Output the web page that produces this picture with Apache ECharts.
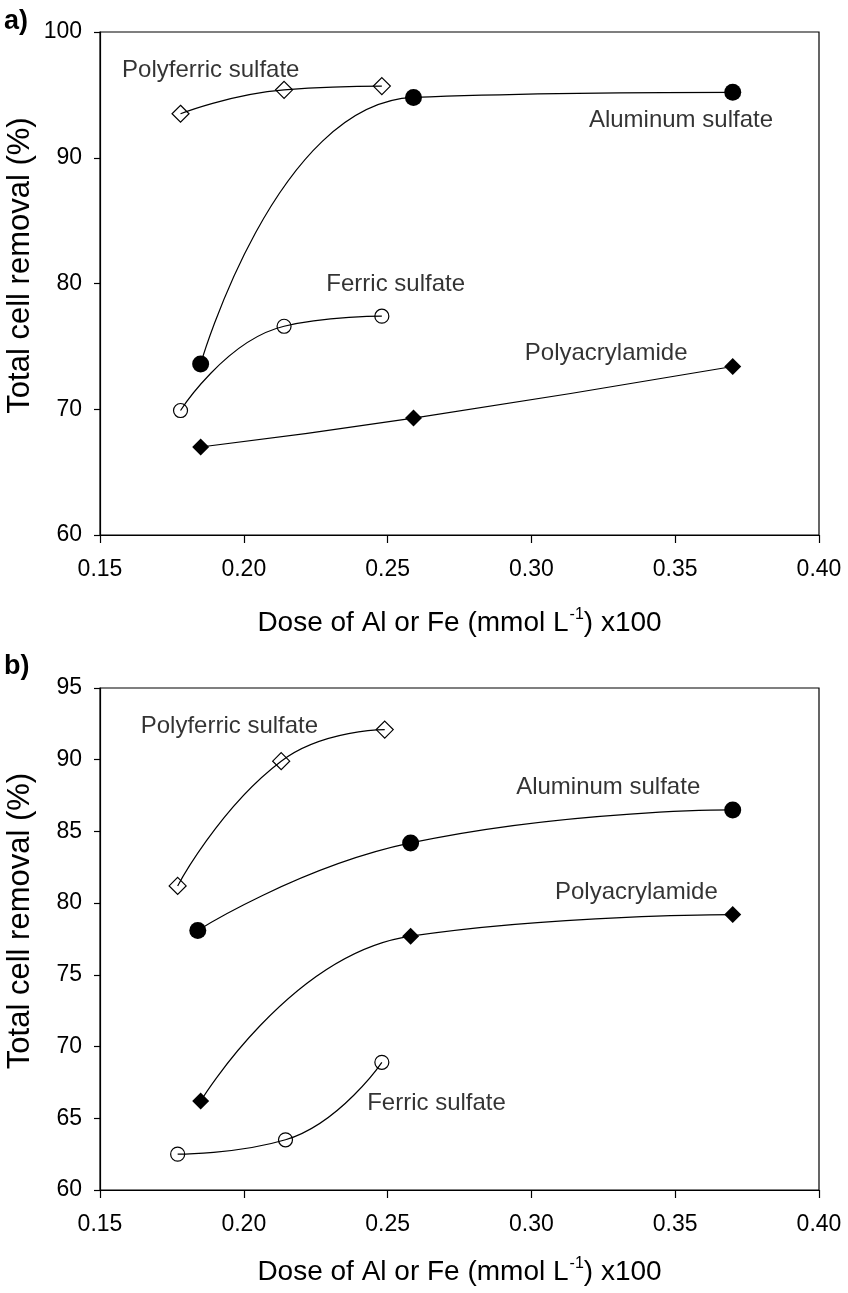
<!DOCTYPE html>
<html>
<head>
<meta charset="utf-8">
<script src="https://cdn.jsdelivr.net/npm/echarts@6/dist/echarts.min.js"></script>
<style>
  html, body { margin: 0; padding: 0; background: #fff; }
  #main { width: 848px; height: 1293px; }
</style>
</head>
<body>
<div id="main"></div>
<script>
// 数据: 面板 a)
var doseA_fe = [0.178, 0.214, 0.248];           // 聚合硫酸铁 / 硫酸铁
var doseA_al = [0.185, 0.259, 0.370];           // 硫酸铝 / 聚丙烯酰胺
var polyferricA = [93.5, 95.4, 95.7];
var ferricA = [69.9, 76.6, 77.4];
var aluminumA = [73.6, 94.8, 95.2];
var polyacrylA = [67.0, 69.3, 73.4];

// 数据: 面板 b)
var doseB_pfs = [0.177, 0.213, 0.249];
var doseB_fs = [0.177, 0.2145, 0.248];
var doseB_al = [0.184, 0.258, 0.370];
var doseB_pam = [0.185, 0.258, 0.370];
var polyferricB = [81.2, 89.9, 92.1];
var ferricB = [62.5, 63.5, 68.9];
var aluminumB = [78.1, 84.2, 86.5];
var polyacrylB = [66.2, 77.7, 79.2];

// 曲线旁的文字 (数据坐标)
var labelTextA = ['Polyferric sulfate', 'Aluminum sulfate', 'Ferric sulfate', 'Polyacrylamide'];
var labelXA = [0.1885, 0.352, 0.2528, 0.326];
var labelYA = [96.98, 93.0, 79.96, 74.47];
var labelTextB = ['Polyferric sulfate', 'Aluminum sulfate', 'Polyacrylamide', 'Ferric sulfate'];
var labelXB = [0.195, 0.3267, 0.3365, 0.267];
var labelYB = [92.3, 88.04, 80.72, 66.06];

var FONT = "'Liberation Sans', Arial, Helvetica, sans-serif";

function zip(xs, ys) {
    var out = [];
    for (var i = 0; i < xs.length; i++) out.push([xs[i], ys[i]]);
    return out;
}

function lineSeries(idx, xs, ys, symbol, size, filled) {
    return {
        type: 'line',
        xAxisIndex: idx,
        yAxisIndex: idx,
        data: zip(xs, ys),
        smooth: 0.5,
        symbol: symbol,
        symbolSize: size,
        showAllSymbol: true,
        lineStyle: { color: '#000', width: 1.2 },
        itemStyle: {
            color: filled ? '#000' : 'rgba(255,255,255,0)',
            borderColor: '#000',
            borderWidth: filled ? 0 : 1.2
        },
        emphasis: { disabled: true },
        silent: true,
        z: 3
    };
}

function labelSeries(idx, texts, xs, ys) {
    var d = [];
    for (var i = 0; i < texts.length; i++) {
        d.push({ value: [xs[i], ys[i]], name: texts[i] });
    }
    return {
        type: 'scatter',
        xAxisIndex: idx,
        yAxisIndex: idx,
        data: d,
        symbolSize: 0,
        silent: true,
        label: {
            show: true,
            position: 'inside',
            formatter: function (p) { return p.name; },
            color: '#000',
            fontSize: 24,
            fontFamily: FONT
        },
        z: 4
    };
}

function xAxisOf(idx, gap) {
    return {
        type: 'value',
        gridIndex: idx,
        min: 0.15,
        max: 0.40,
        interval: 0.05,
        name: '{a|Dose of Al or Fe (mmol L}{s|-1}{a|) x100}',
        nameLocation: 'middle',
        nameGap: gap,
        nameMoveOverlap: false,
        nameTextStyle: {
            rich: {
                a: { fontSize: 28, fontFamily: FONT, color: '#000', lineHeight: 30, verticalAlign: 'bottom' },
                s: { fontSize: 16, fontFamily: FONT, color: '#000', lineHeight: 30, verticalAlign: 'top', padding: [0, 0, 0, 1] }
            }
        },
        axisLine: { show: true, onZero: false, lineStyle: { color: '#000', width: 1.2 } },
        axisTick: { show: true, inside: false, length: 8, lineStyle: { color: '#000', width: 1.2 } },
        axisLabel: {
            margin: 23,
            fontSize: 23,
            fontFamily: FONT,
            color: '#000',
            formatter: function (v) { return v.toFixed(2); }
        },
        splitLine: { show: false }
    };
}

function yAxisOf(idx, max, interval) {
    return {
        type: 'value',
        gridIndex: idx,
        min: 60,
        max: max,
        interval: interval,
        name: 'Total cell removal (%)',
        nameLocation: 'middle',
        nameGap: 64,
        nameRotate: 90,
        nameMoveOverlap: false,
        nameTextStyle: {
            fontSize: 31,
            fontFamily: FONT,
            color: '#000',
            padding: [0, 0, 0, 36]
        },
        axisLine: { show: true, onZero: false, lineStyle: { color: '#000', width: 1.2 } },
        axisTick: { show: true, inside: false, length: 6, lineStyle: { color: '#000', width: 1.2 } },
        axisLabel: {
            margin: 18,
            fontSize: 23,
            fontFamily: FONT,
            color: '#000'
        },
        splitLine: { show: false }
    };
}

var chart = echarts.init(document.getElementById('main'));

var option = {
    backgroundColor: '#fff',
    animation: false,
    title: [
        { text: 'a)', left: 4, top: 8, padding: 0, textStyle: { fontSize: 27, fontWeight: 'bold', fontFamily: FONT, color: '#000' } },
        { text: 'b)', left: 4, top: 653, padding: 0, textStyle: { fontSize: 27, fontWeight: 'bold', fontFamily: FONT, color: '#000' } }
    ],
    grid: [
        { left: 100, right: 29, top: 32, height: 503, outerBoundsMode: 'none', containLabel: false, show: true, borderColor: '#000', borderWidth: 1.2, backgroundColor: '#fff' },
        { left: 100, right: 29, top: 688, height: 502, outerBoundsMode: 'none', containLabel: false, show: true, borderColor: '#000', borderWidth: 1.2, backgroundColor: '#fff' }
    ],
    xAxis: [xAxisOf(0, 72), xAxisOf(1, 66)],
    yAxis: [yAxisOf(0, 100, 10), yAxisOf(1, 95, 5)],
    series: [
        lineSeries(0, doseA_fe, polyferricA, 'diamond', 17, false),
        lineSeries(0, doseA_al, aluminumA, 'circle', 17, true),
        lineSeries(0, doseA_fe, ferricA, 'circle', 14, false),
        lineSeries(0, doseA_al, polyacrylA, 'diamond', 17, true),
        labelSeries(0, labelTextA, labelXA, labelYA),

        lineSeries(1, doseB_pfs, polyferricB, 'diamond', 17, false),
        lineSeries(1, doseB_al, aluminumB, 'circle', 17, true),
        lineSeries(1, doseB_fs, ferricB, 'circle', 14, false),
        lineSeries(1, doseB_pam, polyacrylB, 'diamond', 17, true),
        labelSeries(1, labelTextB, labelXB, labelYB)
    ]
};

chart.setOption(option);
window.addEventListener('resize', function () {
    chart.resize();
});
</script>
</body>
</html>
